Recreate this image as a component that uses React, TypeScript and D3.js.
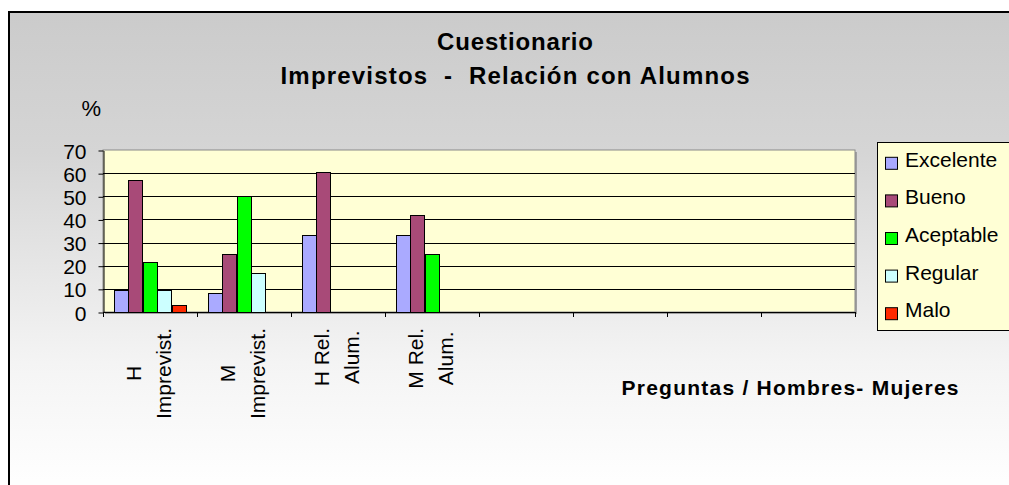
import React, { useEffect, useRef } from "react";
import * as d3 from "d3";

const categoryLabels: string[] = [
  "H\nImprevist.",
  "M\nImprevist.",
  "H Rel.\nAlum.",
  "M Rel.\nAlum.",
  "",
  "",
  "",
  "",
];
const seriesNames: string[] = ["Excelente", "Bueno", "Aceptable", "Regular", "Malo"];
const excelente: (number | null)[] = [9.3, 8.3, 33.3, 33.3, null, null, null, null];
const bueno: (number | null)[] = [57.1, 25, 60.7, 41.7, null, null, null, null];
const aceptable: (number | null)[] = [21.5, 50, null, 25, null, null, null, null];
const regular: (number | null)[] = [9.3, 17, null, null, null, null, null, null];
const malo: (number | null)[] = [3.2, null, null, null, null, null, null, null];
const yTicks: number[] = [0, 10, 20, 30, 40, 50, 60, 70];
const seriesColors: string[] = ["#aaaaff", "#a84a78", "#00ff00", "#ccffff", "#ff2a00"];
const titleLines: string[] = ["Cuestionario", "Imprevistos  -  Relación con Alumnos"];
const yAxisTitle = "%";
const xAxisTitle = "Preguntas / Hombres- Mujeres";

const FONT = "'Liberation Sans', Arial, Helvetica, sans-serif";

export default function App() {
  const ref = useRef<SVGSVGElement | null>(null);

  useEffect(() => {
    const svg = d3.select(ref.current);
    svg.selectAll("*").remove();
    const W = 1009, H = 485;
    const left = 103, right = 855, top = 150, bottom = 312;

    const defs = svg.append("defs");
    const grad = defs.append("linearGradient").attr("id", "bgGrad")
      .attr("gradientUnits", "userSpaceOnUse").attr("x1", 0).attr("y1", 11).attr("x2", 0).attr("y2", 480);
    grad.append("stop").attr("offset", 0).attr("stop-color", "#cbcbcb");
    grad.append("stop").attr("offset", 0.3).attr("stop-color", "#d5d5d5");
    grad.append("stop").attr("offset", 0.75).attr("stop-color", "#f4f4f4");
    grad.append("stop").attr("offset", 1).attr("stop-color", "#fefefe");

    svg.append("rect").attr("x", 0).attr("y", 0).attr("width", W).attr("height", H).attr("fill", "#ffffff");
    svg.append("rect").attr("x", 9).attr("y", 12).attr("width", 1100).attr("height", 600)
      .attr("fill", "url(#bgGrad)").attr("stroke", "#000").attr("stroke-width", 2);

    // Titles
    const titleCx = 515;
    svg.append("text").attr("x", titleCx).attr("y", 50).attr("text-anchor", "middle")
      .attr("font-family", FONT).attr("font-weight", "bold").attr("font-size", 24)
      .attr("textLength", 156).attr("lengthAdjust", "spacing").text(titleLines[0]);
    svg.append("text").attr("x", titleCx).attr("y", 84).attr("text-anchor", "middle")
      .attr("font-family", FONT).attr("font-weight", "bold").attr("font-size", 24)
      .attr("textLength", 469).attr("lengthAdjust", "spacing")
      .style("white-space", "pre").text(titleLines[1]);

    svg.append("text").attr("x", 81.5).attr("y", 116).attr("font-family", FONT).attr("font-size", 22).text(yAxisTitle);

    const y = d3.scaleLinear().domain([0, 70]).range([bottom, top]);
    const x = d3.scaleBand<number>().domain(d3.range(categoryLabels.length)).range([left, right]).paddingInner(0).paddingOuter(0);
    const xs = d3.scaleBand<string>().domain(seriesNames).range([0, x.bandwidth()]).paddingInner(0).paddingOuter(0.75);

    // plot area
    svg.append("rect").attr("x", left + 2).attr("y", top + 2).attr("width", right - left).attr("height", bottom - top)
      .attr("fill", "#a0a0a0");
    svg.append("rect").attr("x", left).attr("y", top).attr("width", right - left).attr("height", bottom - top)
      .attr("fill", "#ffffd5").attr("stroke", "#8a8a8a").attr("stroke-width", 1);

    svg.append("g").selectAll("line").data(yTicks.filter(t => t > 0 && t < 70)).join("line")
      .attr("x1", left).attr("x2", right)
      .attr("y1", d => Math.round(y(d)) + 0.5).attr("y2", d => Math.round(y(d)) + 0.5)
      .attr("stroke", "#000").attr("stroke-width", 1);

    // bars
    const allSeries = [excelente, bueno, aceptable, regular, malo];
    allSeries.forEach((vals, si) => {
      svg.append("g").selectAll("rect").data(vals.map((v, i) => ({ v, i })).filter(d => d.v != null)).join("rect")
        .attr("x", d => Math.round((x(d.i) as number) + (xs(seriesNames[si]) as number)) + 0.5)
        .attr("y", d => Math.round(y(d.v as number)) + 0.5)
        .attr("width", Math.round(xs.bandwidth()))
        .attr("height", d => Math.round(y(0)) - Math.round(y(d.v as number)))
        .attr("fill", seriesColors[si]).attr("stroke", "#000").attr("stroke-width", 1);
    });

    // y axis
    const yAxis = d3.axisLeft(y).tickValues(yTicks).tickSize(5).tickSizeOuter(0).tickPadding(12).tickFormat(d3.format("d"));
    const gy = svg.append("g").attr("transform", `translate(${left + 0.5},0.5)`).call(yAxis);
    gy.selectAll("text").attr("font-family", FONT).attr("font-size", 21).attr("fill", "#000").attr("dy", "0.36em");
    gy.selectAll("line,path").attr("stroke", "#000");

    // x axis
    const bounds = d3.range(categoryLabels.length + 1).map(i => left + i * x.bandwidth());
    svg.append("line").attr("x1", left).attr("x2", right).attr("y1", bottom + 0.5).attr("y2", bottom + 0.5).attr("stroke", "#000");
    svg.append("g").selectAll("line").data(bounds).join("line")
      .attr("x1", d => Math.round(d) + 0.5).attr("x2", d => Math.round(d) + 0.5)
      .attr("y1", bottom).attr("y2", bottom + 5).attr("stroke", "#000");

    // x labels (rotated)
    categoryLabels.forEach((lab, i) => {
      if (!lab) return;
      const lines = lab.split("\n");
      const cx = (x(i) as number) + x.bandwidth() / 2;
      const g = svg.append("g");
      const texts = lines.map((ln) =>
        g.append("text").attr("font-family", FONT).attr("font-size", 21).attr("fill", "#000")
          .attr("text-anchor", "middle").text(ln)
      );
      const maxLen = d3.max(texts, t => (t.node() as SVGTextElement).getComputedTextLength()) || 0;
      const cy = 328 + maxLen / 2;
      texts.forEach((t, li) => {
        const bx = cx - 9 + li * 30;
        t.attr("transform", `translate(${bx},${cy}) rotate(-90)`);
      });
    });

    svg.append("text").attr("x", 621.5).attr("y", 395).attr("font-family", FONT).attr("font-weight", "bold")
      .attr("font-size", 21).attr("textLength", 337).attr("lengthAdjust", "spacing").text(xAxisTitle);

    // legend
    svg.append("rect").attr("x", 877.5).attr("y", 142.5).attr("width", 200).attr("height", 188)
      .attr("fill", "#ffffd5").attr("stroke", "#000").attr("stroke-width", 1);
    const lg = svg.append("g").selectAll("g").data(seriesNames).join("g")
      .attr("transform", (d, i) => `translate(0,${162.8 + i * 37.6})`);
    lg.append("rect").attr("x", 885.5).attr("y", -5.5).attr("width", 12).attr("height", 12)
      .attr("fill", (d, i) => seriesColors[i]).attr("stroke", "#000");
    lg.append("text").attr("x", 905).attr("y", 4).attr("font-family", FONT).attr("font-size", 21)
      .attr("fill", "#000").text(d => d);
  }, []);

  return (
    <svg ref={ref} width={1009} height={485}
      style={{ position: "absolute", left: 0, top: 0, display: "block" }} />
  );
}
